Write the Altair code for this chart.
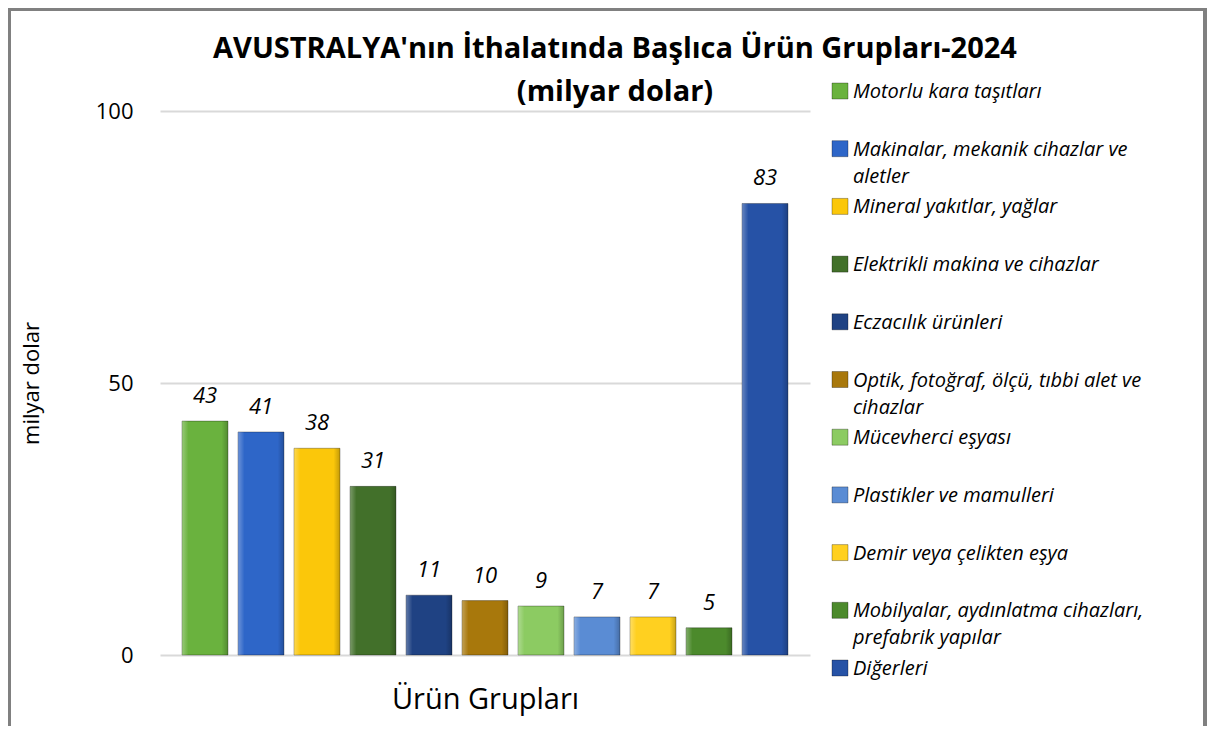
import altair as alt
import pandas as pd

# ---- data ----
cats = [
    "Motorlu kara taşıtları",
    "Makinalar, mekanik cihazlar ve aletler",
    "Mineral yakıtlar, yağlar",
    "Elektrikli makina ve cihazlar",
    "Eczacılık ürünleri",
    "Optik, fotoğraf, ölçü, tıbbi alet ve cihazlar",
    "Mücevherci eşyası",
    "Plastikler ve mamulleri",
    "Demir veya çelikten eşya",
    "Mobilyalar, aydınlatma cihazları, prefabrik yapılar",
    "Diğerleri",
]
values = [43, 41, 38, 31, 11, 10, 9, 7, 7, 5, 83]
legend_labels = [
    "Motorlu kara taşıtları",
    "Makinalar, mekanik cihazlar ve\naletler",
    "Mineral yakıtlar, yağlar",
    "Elektrikli makina ve cihazlar",
    "Eczacılık ürünleri",
    "Optik, fotoğraf, ölçü, tıbbi alet ve\ncihazlar",
    "Mücevherci eşyası",
    "Plastikler ve mamulleri",
    "Demir veya çelikten eşya",
    "Mobilyalar, aydınlatma cihazları,\nprefabrik yapılar",
    "Diğerleri",
]
colors = [
    "#6ab23e", "#2e66c8", "#fbc70a", "#42702a", "#1f4283", "#a8780c",
    "#8ccb62", "#5a8cd4", "#ffd020", "#4c8a2c", "#2652a6",
]
y_ticks = [0, 50, 100]
title_lines = ["AVUSTRALYA'nın İthalatında Başlıca Ürün Grupları-2024", "(milyar dolar)"]

df = pd.DataFrame({"cat": cats, "value": values, "leg": legend_labels})

FONT = "Open Sans"
W, H = 650, 544

color = alt.Color("cat:N", scale=alt.Scale(domain=cats, range=colors), legend=None)

x_enc = alt.X(
    "cat:N", sort=cats,
    scale=alt.Scale(paddingInner=0.179, paddingOuter=0.393),
    axis=alt.Axis(title="Ürün Grupları", labels=False, ticks=False, domain=False, grid=False,
                  titleFont=FONT, titleFontSize=29, titleFontWeight="normal",
                  titleColor="#000000", titlePadding=30),
)
y_enc = alt.Y(
    "value:Q",
    scale=alt.Scale(domain=[0, 100]),
    axis=alt.Axis(values=y_ticks, title="milyar dolar", domain=False, ticks=False,
                  grid=True, gridColor="#d9d9d9", gridWidth=2,
                  labelFont=FONT, labelFontSize=22, labelColor="#000000", labelPadding=27,
                  titleFont=FONT, titleFontSize=22, titleFontWeight="normal",
                  titleColor="#000000", titlePadding=52),
)

bars = alt.Chart(df).mark_bar(stroke="#000000", strokeOpacity=0.3, strokeWidth=1).encode(
    x=x_enc, y=y_enc, color=color
)
bevel = alt.Chart(df).mark_bar(
    fill=alt.Gradient(
        gradient="linear", x1=0, x2=1, y1=0, y2=0,
        stops=[
            alt.GradientStop(color="rgba(255,255,255,0.30)", offset=0),
            alt.GradientStop(color="rgba(255,255,255,0.0)", offset=0.14),
            alt.GradientStop(color="rgba(0,0,0,0.0)", offset=0.86),
            alt.GradientStop(color="rgba(0,0,0,0.22)", offset=1),
        ],
    )
).encode(x=alt.X("cat:N", sort=cats), y=alt.Y("value:Q"))
labels = alt.Chart(df).mark_text(
    baseline="alphabetic", dy=-18, font=FONT, fontSize=22, fontStyle="italic", color="#000000"
).encode(x=alt.X("cat:N", sort=cats), y=alt.Y("value:Q"), text=alt.Text("value:Q"))

main = alt.layer(bars, bevel, labels)

leg_y = alt.Y("cat:N", sort=cats, axis=None,
              scale=alt.Scale(type="point", domain=cats, range=[-20, 557], padding=0))
leg_sq = alt.Chart(df).mark_square(size=256, opacity=1, stroke="#000000",
                                   strokeOpacity=0.3, strokeWidth=1).encode(
    x=alt.value(680), y=leg_y, color=color
)
leg_txt = alt.Chart(df).mark_text(
    align="left", baseline="alphabetic", dy=7, lineBreak="\n", lineHeight=27,
    font=FONT, fontSize=20, fontStyle="italic", color="#000000"
).encode(x=alt.value(693), y=leg_y, text="leg:N")
legend = alt.layer(leg_sq, leg_txt)

frame = alt.Chart(df).mark_rect(fill="transparent", stroke="#808080", strokeWidth=3).encode(
    x=alt.value(-151), x2=alt.value(1045), y=alt.value(-101.5), y2=alt.value(640)
)

chart = alt.layer(main, legend, frame).resolve_scale(y="independent").properties(
    width=W, height=H,
    background="#ffffff",
    title=alt.Title(title_lines, font=FONT, fontSize=29, fontWeight="bold", color="#000000",
                    anchor="middle", frame="group", dx=130, dy=99, offset=0, lineHeight=43),
    autosize=alt.AutoSizeParams(type="none"),
    padding={"left": 152, "top": 103, "right": 397, "bottom": 71},
).configure_view(stroke="transparent", strokeWidth=0)

chart.save("out.html", embed_options={"renderer": "svg", "actions": False})
